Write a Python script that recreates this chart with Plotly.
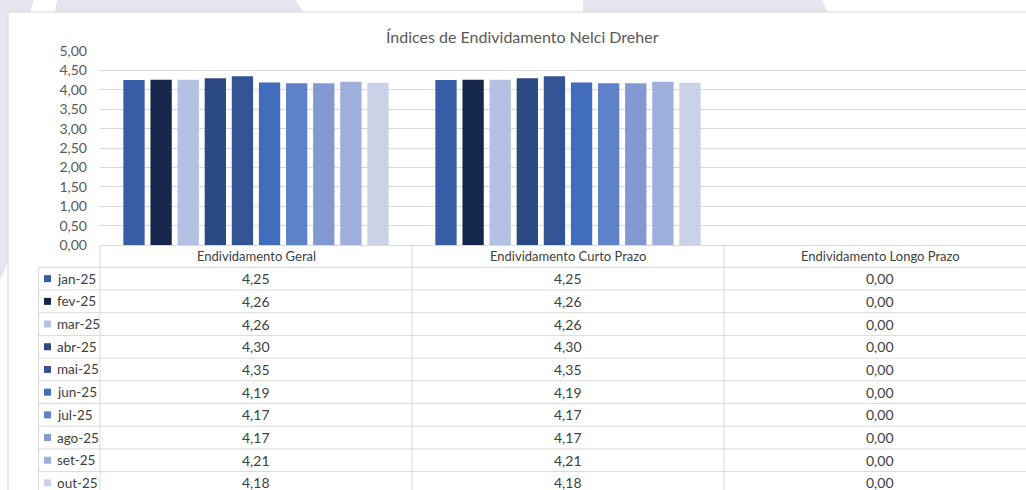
import plotly.graph_objects as go

# ---- data ----
categories = ["Endividamento Geral", "Endividamento Curto Prazo", "Endividamento Longo Prazo"]
months = ["jan-25", "fev-25", "mar-25", "abr-25", "mai-25",
          "jun-25", "jul-25", "ago-25", "set-25", "out-25"]
geral = [4.25, 4.26, 4.26, 4.30, 4.35, 4.19, 4.17, 4.17, 4.21, 4.18]
curto_prazo = [4.25, 4.26, 4.26, 4.30, 4.35, 4.19, 4.17, 4.17, 4.21, 4.18]
longo_prazo = [0.00, 0.00, 0.00, 0.00, 0.00, 0.00, 0.00, 0.00, 0.00, 0.00]
y_ticks = [0, 0.5, 1.0, 1.5, 2.0, 2.5, 3.0, 3.5, 4.0, 4.5, 5.0]
title_text = "Índices de Endividamento Nelci Dreher"

colors = ["#375DA7", "#15284B", "#B4C1E2", "#2B4A84", "#335595",
          "#416DBC", "#5F81C8", "#8399D2", "#9FAFDB", "#CBD2E8"]

# ---- page geometry (pixels) ----
W, H = 1026, 490
FONT = "Lato, Carlito, Calibri, sans-serif"
GRID = "#D9D9D9"
TXT = "#404040"
AX_TXT = "#595959"

plot_left = 100          # left edge of plot / data table
cat_w = 312              # width of one category column
y_zero, y_top = 245, 51  # pixel rows of 0,00 and 5,00
row_h = 22.7
header_bottom = 267.3
legend_left = 38.5
frame_x, frame_y = 8, 12


def px(x):
    return x / W


def py(y):
    return 1 - y / H


series = [geral, curto_prazo, longo_prazo]

fig = go.Figure()
for i, m in enumerate(months):
    fig.add_trace(go.Bar(
        x=categories,
        y=[s[i] for s in series],
        name=m,
        marker=dict(color=colors[i], line=dict(width=0)),
        showlegend=False,
        hoverinfo="skip",
    ))

x_end = -0.5 + (W - plot_left) / cat_w

shapes = []
annotations = []

# watermark strips outside the chart frame
wm = "#E5E5EF"
wm_paths = [
    [(0, 0), (34, 0), (30, frame_y), (0, frame_y)],
    [(57, 0), (296, 0), (303, frame_y), (55, frame_y)],
    [(583, 0), (822, 0), (828, frame_y), (583, frame_y)],
    [(0, 0), (frame_x, 0), (frame_x, 262), (0, 280)],
]
for poly in wm_paths:
    d = "M " + " L ".join(f"{px(x)},{py(y)}" for x, y in poly) + " Z"
    shapes.append(dict(type="path", xref="paper", yref="paper", path=d,
                       fillcolor=wm, line=dict(width=0), layer="below"))

# chart frame
shapes.append(dict(type="line", xref="paper", yref="paper",
                   x0=px(frame_x), x1=px(frame_x), y0=py(frame_y), y1=py(H),
                   line=dict(color=GRID, width=1)))
shapes.append(dict(type="line", xref="paper", yref="paper",
                   x0=px(frame_x), x1=1, y0=py(frame_y), y1=py(frame_y),
                   line=dict(color=GRID, width=1)))

# data table: horizontal rules
for r in range(len(months) + 1):
    yy = header_bottom + r * row_h
    shapes.append(dict(type="line", xref="paper", yref="paper",
                       x0=px(legend_left), x1=1, y0=py(yy), y1=py(yy),
                       line=dict(color=GRID, width=1)))
# vertical rules
shapes.append(dict(type="line", xref="paper", yref="paper",
                   x0=px(legend_left), x1=px(legend_left),
                   y0=py(header_bottom), y1=py(H),
                   line=dict(color=GRID, width=1)))
for c in range(3):
    xx = plot_left + c * cat_w
    shapes.append(dict(type="line", xref="paper", yref="paper",
                       x0=px(xx), x1=px(xx), y0=py(y_zero), y1=py(H),
                       line=dict(color=GRID, width=1)))

# header row
for c, name in enumerate(categories):
    annotations.append(dict(
        xref="paper", yref="paper", x=px(plot_left + (c + 0.5) * cat_w),
        y=py((y_zero + header_bottom) / 2), text=name, showarrow=False,
        xanchor="center", yanchor="middle",
        font=dict(family=FONT, size=13, color=TXT)))

# rows: legend key, month, values
for r, m in enumerate(months):
    yc = header_bottom + (r + 0.5) * row_h
    shapes.append(dict(type="rect", xref="paper", yref="paper",
                       x0=px(44), x1=px(51), y0=py(yc - 3.5), y1=py(yc + 3.5),
                       fillcolor=colors[r], line=dict(width=0)))
    annotations.append(dict(
        xref="paper", yref="paper", x=px(54.5), y=py(yc), text=m,
        showarrow=False, xanchor="left", yanchor="middle",
        font=dict(family=FONT, size=13.5, color=TXT)))
    for c, s in enumerate(series):
        annotations.append(dict(
            xref="paper", yref="paper", x=px(plot_left + (c + 0.5) * cat_w),
            y=py(yc), text=f"{s[r]:.2f}".replace(".", ","),
            showarrow=False, xanchor="center", yanchor="middle",
            font=dict(family=FONT, size=14, color=TXT)))

# title
annotations.append(dict(
    xref="paper", yref="paper", x=px(522), y=py(36), text=title_text,
    showarrow=False, xanchor="center", yanchor="middle",
    font=dict(family=FONT, size=16, color=AX_TXT)))

fig.update_layout(
    width=W, height=H,
    margin=dict(l=0, r=0, t=0, b=0, autoexpand=False),
    paper_bgcolor="white",
    plot_bgcolor="rgba(0,0,0,0)",
    barmode="group",
    bargap=0.131,
    bargroupgap=0.214,
    separators=",.",
    shapes=shapes,
    annotations=annotations,
    xaxis=dict(domain=[px(plot_left), 1], range=[-0.5, x_end],
               showticklabels=False, showgrid=False, zeroline=False,
               showline=False, fixedrange=True, automargin=False),
    yaxis=dict(domain=[py(y_zero), py(y_top)], range=[0, 5],
               tickvals=y_ticks, tickformat=".2f",
               showgrid=True, gridcolor=GRID, gridwidth=1,
               zeroline=True, zerolinecolor=GRID, zerolinewidth=1,
               showline=False, ticks="", ticklabelstandoff=12,
               tickfont=dict(family=FONT, size=14, color=AX_TXT),
               fixedrange=True, automargin=False),
    font=dict(family=FONT),
)

fig.write_html("out.html", config={"displayModeBar": False})
